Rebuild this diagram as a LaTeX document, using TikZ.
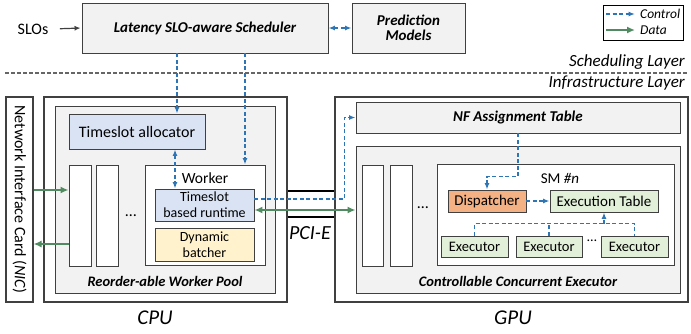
\documentclass[tikz,border=0pt]{standalone}
\usepackage{fontspec}
\setmainfont{Carlito}
\usetikzlibrary{arrows.meta,positioning,calc}
\definecolor{CtrlBlue}{RGB}{46,117,182}
\definecolor{DataGreen}{RGB}{80,138,96}
\definecolor{BoxLine}{RGB}{64,64,64}
\definecolor{PanelGray}{RGB}{242,242,242}
\definecolor{SlotBlue}{RGB}{218,227,243}
\definecolor{BatchYellow}{RGB}{255,242,204}
\definecolor{DispOrange}{RGB}{244,177,131}
\definecolor{ExecGreen}{RGB}{226,240,217}
\newcommand{\fsz}[1]{\fontsize{#1}{#1}\selectfont}
\tikzset{
  gbox/.style={draw=BoxLine,fill=PanelGray,line width=0.9pt,inner sep=0pt},
  wbox/.style={draw=BoxLine,fill=white,line width=0.9pt,inner sep=0pt},
  bluebox/.style={draw=BoxLine,fill=SlotBlue,line width=0.9pt,inner sep=0pt},
  yellowbox/.style={draw=BoxLine,fill=BatchYellow,line width=0.9pt,inner sep=0pt},
  orangebox/.style={draw=BoxLine,fill=DispOrange,line width=0.9pt,inner sep=0pt},
  greenbox/.style={draw=BoxLine,fill=ExecGreen,line width=0.9pt,inner sep=0pt},
  lane/.style={wbox,minimum width=22pt,minimum height=101pt},
  ctrlarr/.style={-{Latex[length=6.5pt,width=5pt]},CtrlBlue,line width=1.3pt,dash pattern=on 4pt off 2.5pt},
  ctrlboth/.style={{Latex[length=6.5pt,width=5pt]}-{Latex[length=6.5pt,width=5pt]},CtrlBlue,line width=1.3pt,dash pattern=on 4pt off 2.5pt},
  ctrlline/.style={CtrlBlue,line width=1.3pt,dash pattern=on 4pt off 2.5pt},
  datarr/.style={-{Latex[length=8pt,width=7pt]},DataGreen,line width=2.3pt},
  databoth/.style={{Latex[length=8pt,width=7pt]}-{Latex[length=8pt,width=7pt]},DataGreen,line width=2.3pt},
}
\begin{document}
\begin{tikzpicture}[x=1pt,y=-1pt,font=\fsz{15},
    btitle/.style={font=\fsz{15}\bfseries\itshape},
    pulabel/.style={font=\fsz{21}\itshape}]
    \useasboundingbox (0,0) rectangle (691,333);

    % Scheduling layer
    \node[gbox,minimum width=246pt,minimum height=50pt,btitle] (sched) at (205,28) {Latency SLO-aware Scheduler};
    \node[gbox,minimum width=113pt,minimum height=50pt,align=center,btitle] (pred) at (408.5,28) {Prediction\\Models};
    \node[font=\fsz{16}] (slos) at (33,29) {SLOs};
    \draw[-{Latex[length=6pt,width=5pt]},line width=1.2pt,BoxLine,shorten <=8pt,shorten >=1pt] (slos.east) -- (sched.west);
    \draw[ctrlboth] (sched.east) -- (pred.west);

    % Legend
    \node[draw,line width=0.8pt,minimum width=80pt,minimum height=35pt] (legend) at (643,22.5) {};
    \node[anchor=west,font=\fsz{13.5}\itshape,inner sep=0pt] (lctrl) at (640,14) {Control};
    \node[anchor=west,font=\fsz{13.5}\itshape,inner sep=0pt] (ldata) at (640,30) {Data};
    \draw[ctrlarr] ([xshift=-34pt]lctrl.west) -- ([xshift=-5pt]lctrl.west);
    \draw[datarr] ([xshift=-34pt]ldata.west) -- ([xshift=-5pt]ldata.west);

    % Layer divider
    \coordinate (divl) at (5,73);
    \coordinate (divr) at (688,73);
    \draw[BoxLine!80,line width=1.2pt,dash pattern=on 4pt off 2pt] (divl) -- (divr);
    \node[anchor=south east,font=\fsz{17}\itshape,inner sep=1pt] (schedlayer) at (686,71) {Scheduling Layer};
    \node[anchor=north east,font=\fsz{17}\itshape,inner sep=1pt] (infralayer) at (686,75) {Infrastructure Layer};

    % CPU side
    \node[wbox,line width=1.1pt,minimum width=27pt,minimum height=205pt] (nic) at (19.5,199.5) {};
    \node[rotate=-90,font=\fsz{16}] (niclbl) at (nic.center) {Network Interface Card (\textit{NIC})};
    \node[wbox,line width=1.1pt,minimum width=243pt,minimum height=205pt] (cpu) at (165.5,199.5) {};
    \node[gbox,minimum width=220pt,minimum height=187pt] (pool) at (165,199.5) {};
    \node[bluebox,minimum width=136pt,minimum height=35pt,font=\fsz{16}] (alloc) at (137,131.5) {Timeslot allocator};
    \node[lane] (lane1) at (80,215.5) {};
    \node[lane] (lane2) at (107,215.5) {};
    \node[font=\fsz{16}] (cdots) at (131,216) {\dots};
    \node[wbox,minimum width=120pt,minimum height=100pt] (worker) at (205,215) {};
    \node[font=\fsz{15.5},inner sep=0pt] (workerlbl) at (205,178) {Worker};
    \node[bluebox,minimum width=99pt,minimum height=32pt,align=center,font=\fontsize{14}{16}\selectfont] (runtime) at (204.5,205) {Timeslot\\based runtime};
    \node[yellowbox,minimum width=99pt,minimum height=33pt,align=center,font=\fontsize{14}{16}\selectfont] (batcher) at (204.5,244.5) {Dynamic\\batcher};
    \node[font=\fsz{14.5}\bfseries\itshape] (poollbl) at (165,281) {Reorder-able Worker Pool};
    \node[pulabel] (cpulbl) at (155,318) {CPU};

    % GPU side
    \node[wbox,line width=1.1pt,minimum width=353pt,minimum height=205pt] (gpu) at (511.5,199.5) {};
    \node[gbox,minimum width=324pt,minimum height=31pt,btitle] (nftable) at (518,117.5) {NF Assignment Table};
    \node[gbox,minimum width=324pt,minimum height=147pt] (execpool) at (518,219.5) {};
    \node[lane,minimum width=21pt] (glane1) at (372.5,215.5) {};
    \node[lane] (glane2) at (401,215.5) {};
    \node[font=\fsz{16}] (gdots) at (423,208) {\dots};
    \node[wbox,minimum width=237pt,minimum height=101pt] (sm) at (555.5,214.5) {};
    \node[inner sep=0pt] (smlbl) at (560,178) {SM \textit{\#n}};
    \node[orangebox,minimum width=78pt,minimum height=22pt] (disp) at (487,201) {Dispatcher};
    \node[greenbox,minimum width=108pt,minimum height=22pt] (exectable) at (604,201) {Execution Table};
    \node[greenbox,minimum width=67pt,minimum height=21pt,font=\fsz{14.5}] (exec1) at (474.5,246.5) {Executor};
    \node[greenbox,minimum width=66pt,minimum height=21pt,font=\fsz{14.5}] (exec2) at (549,246.5) {Executor};
    \node[greenbox,minimum width=67pt,minimum height=21pt,font=\fsz{14.5}] (exec3) at (634.5,246.5) {Executor};
    \node[font=\fsz{14}] (edots) at (592,241) {\dots};
    \node[font=\fsz{14.5}\bfseries\itshape] (execlbl) at (518,281) {Controllable Concurrent Executor};
    \node[pulabel] (gpulbl) at (513,318) {GPU};

    % PCI-E link
    \draw[line width=1.5pt] ([yshift=8.5pt]cpu.east) -- ([yshift=8.5pt]gpu.west);
    \draw[line width=1.5pt] ([yshift=-17.5pt]cpu.east) -- ([yshift=-17.5pt]gpu.west);
    \node[font=\fsz{20}\itshape] (pcie) at (310,233) {PCI-E};

    % Control flow
    \coordinate (allocin) at ([xshift=40pt]alloc.north);
    \draw[ctrlarr] (sched.south -| allocin) -- (allocin);
    \coordinate (workerin) at ([xshift=40pt]worker.north);
    \draw[ctrlarr] (sched.south -| workerin) -- (workerin);
    \coordinate (slotlink) at ([xshift=-29.5pt]runtime.north);
    \draw[ctrlboth] (alloc.south -| slotlink) -- (slotlink);
    \draw[ctrlarr] ([yshift=6pt]runtime.east) -- ++(90,0) |- (nftable.west);
    \draw[ctrlarr] (nftable.south) -- ++(0,43) -| (disp.north);
    \draw[ctrlarr] (disp) -- (exectable);
    \coordinate (ebus) at ([yshift=12pt]exec1.north);
    \draw[ctrlline] (exec1.north) -- (ebus) -| (exec3.north);
    \draw[ctrlline] (exec2.north) -- (exec2.north |- ebus);
    \draw[ctrlarr] (exectable.south |- ebus) -- (exectable.south);

    % Data flow
    \coordinate (nicin) at ([yshift=9.5pt]nic.east);
    \draw[datarr] (nicin) -- (nicin -| lane1.west);
    \coordinate (nicout) at ([yshift=-44.5pt]nic.east);
    \draw[datarr] (nicout -| lane1.west) -- (nicout);
    \coordinate (pciin) at ([yshift=-5pt]runtime.east);
    \draw[databoth] (pciin) -- (pciin -| execpool.west);
\end{tikzpicture}
\end{document}
